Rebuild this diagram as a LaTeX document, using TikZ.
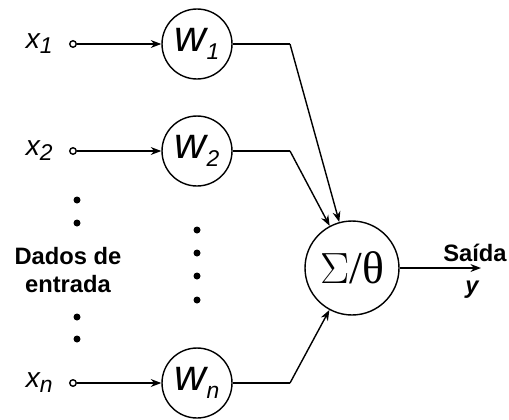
\documentclass[tikz,border=0pt]{standalone}
\usepackage{fontspec}
\setmainfont{Liberation Sans}
\newfontfamily\serifsym{Liberation Serif}
\usetikzlibrary{positioning,arrows.meta}
\tikzset{
  weight/.style={draw, circle, thick, minimum size=1.4cm, inner sep=0pt, font=\fontsize{25}{25}\selectfont\itshape},
  summer/.style={draw, circle, thick, minimum size=1.88cm, inner sep=0pt, font=\fontsize{26}{26}\selectfont\serifsym},
  terminal/.style={draw, circle, thick, minimum size=0.13cm, inner sep=0pt},
  dot/.style={fill, circle, minimum size=0.14cm, inner sep=0pt},
  inlabel/.style={font=\fontsize{16}{16}\selectfont\itshape, inner sep=0pt},
  link/.style={thick, -{Stealth[length=6pt,width=4.5pt]}}
}
\newcommand{\lowsub}[1]{\raisebox{-0.35ex}{\fontsize{13}{13}\selectfont #1}}
\begin{document}
\begin{tikzpicture}[x=0.02cm, y=-0.02cm]
            \useasboundingbox (0,0) rectangle (509,419);
            \draw node (W1) [weight] at (197,44) {w\lowsub{1}};
            \draw node (W2) [weight] at (197,151) {w\lowsub{2}};
            \draw node (Wn) [weight] at (197,383) {w\lowsub{n}};
            \draw node (S) [summer] at (352,268) {$\Sigma$/θ};

            \foreach \w/\y in {1/44, 2/151, n/383} {
                \draw node (I\w) [terminal] at (73,\y) {};
                \draw node (X\w) [inlabel, left = 0.4cm of I\w.center, anchor=mid east] {x\lowsub{\w}};
                \draw[link] (I\w) -- (W\w);
                \coordinate (B\w) at (290,\y);
                \draw[thick] (W\w) -- (B\w);
                \draw[link] (B\w) -- (S);
            }

            \coordinate (O) at (481,268);
            \draw[link] (S) -- (O);
            \draw node (Out) [above left = 0.12cm and -0.52cm of O, font=\fontsize{13.5}{13.5}\selectfont\bfseries, inner sep=0pt] {Saída};
            \draw node (Y) [below = 0.26cm of O, xshift=-0.18cm, font=\fontsize{13.5}{13.5}\selectfont\bfseries\itshape, inner sep=0pt] {y};

            \draw node (D) [align=center, font=\fontsize{13.5}{16}\selectfont\bfseries] at (68,270) {Dados de\\entrada};
            \foreach \y in {200, 223, 317, 339} \draw node [dot] at (77,\y) {};
            \foreach \y in {230, 253, 276, 300} \draw node [dot] at (197,\y) {};
        \end{tikzpicture}
\end{document}
